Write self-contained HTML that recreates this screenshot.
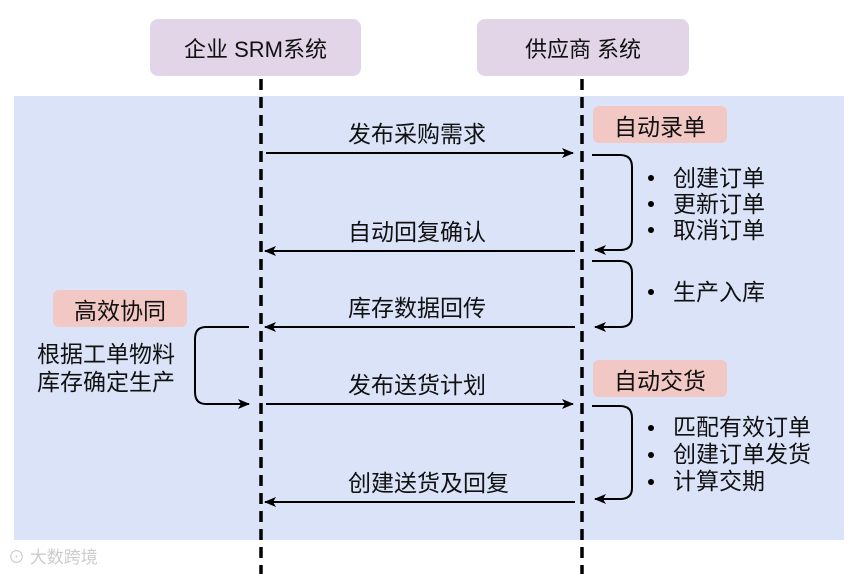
<!DOCTYPE html>
<html><head><meta charset="utf-8"><style>
html,body{margin:0;padding:0;background:#fff;}
body{width:861px;height:574px;position:relative;overflow:hidden;font-family:"Liberation Sans","Noto Sans CJK SC",sans-serif;color:#111;}
.a{position:absolute;}
.hdr{background:#e1d5e7;border-radius:8px;font-size:22px;display:flex;align-items:center;justify-content:center;}
.tag{background:#f2c8c4;border-radius:6px;font-size:23px;display:flex;align-items:center;justify-content:center;}
.t{font-size:23px;white-space:nowrap;line-height:26px;}
</style></head><body>
<div class="a" style="left:14px;top:96px;width:830px;height:444px;background:#dae3f8"></div>
<div class="a hdr" style="left:150px;top:19px;width:211px;height:57px">企业 SRM系统</div>
<div class="a hdr" style="left:477px;top:19px;width:212px;height:57px">供应商 系统</div>
<div class="a tag" style="left:593px;top:106px;width:134px;height:37px">自动录单</div>
<div class="a tag" style="left:53px;top:290px;width:134px;height:37px">高效协同</div>
<div class="a tag" style="left:593px;top:360px;width:134px;height:37px">自动交货</div>
<svg class="a" style="left:0;top:0" width="861" height="574">
<defs><marker id="m" markerWidth="12" markerHeight="10" refX="11" refY="5" orient="auto" markerUnits="userSpaceOnUse"><path d="M0,0 L12,5 L0,10 L3,5 Z" fill="#000"/></marker></defs>
<g stroke="#000" stroke-width="3.5" stroke-dasharray="11,7">
<line x1="261" y1="79" x2="261" y2="574"/><line x1="582" y1="79" x2="582" y2="574"/></g>
<g stroke="#000" stroke-width="2" fill="none" marker-end="url(#m)">
<line x1="266" y1="153" x2="573" y2="153"/>
<line x1="575" y1="251" x2="265" y2="251"/>
<line x1="575" y1="327" x2="265" y2="327"/>
<line x1="266" y1="404" x2="573" y2="404"/>
<line x1="575" y1="502" x2="265" y2="502"/>
<path d="M592,155 H620 Q632,155 632,167 V239 Q632,250 620,250 H595"/>
<path d="M592,261 H620 Q632,261 632,273 V316 Q632,327 620,327 H595"/>
<path d="M592,406 H620 Q632,406 632,418 V488 Q632,499 620,499 H595"/>
<path d="M249,327 H206 Q195,327 195,339 V392 Q195,404 206,404 H249"/>
</g>
<g fill="#000"><circle cx="651" cy="178" r="3"/><circle cx="651" cy="204" r="3"/><circle cx="651" cy="230" r="3"/><circle cx="651" cy="292" r="3"/><circle cx="651" cy="428" r="3"/><circle cx="651" cy="455" r="3"/><circle cx="651" cy="482" r="3"/></g>
</svg>
<div class="a t" style="left:348px;top:121px">发布采购需求</div>
<div class="a t" style="left:348px;top:219px">自动回复确认</div>
<div class="a t" style="left:348px;top:295px">库存数据回传</div>
<div class="a t" style="left:348px;top:372px">发布送货计划</div>
<div class="a t" style="left:348px;top:470px">创建送货及回复</div>
<div class="a t" style="left:673px;top:165px;line-height:26px">创建订单<br>更新订单<br>取消订单</div>
<div class="a t" style="left:673px;top:279px">生产入库</div>
<div class="a t" style="left:673px;top:414px;line-height:27px">匹配有效订单<br>创建订单发货<br>计算交期</div>
<div class="a t" style="left:37px;top:340px;line-height:28px">根据工单物料<br>库存确定生产</div>
<div class="a" style="left:8px;top:543px;font-size:17px;color:#ccc">⊙ 大数跨境</div>
</body></html>
